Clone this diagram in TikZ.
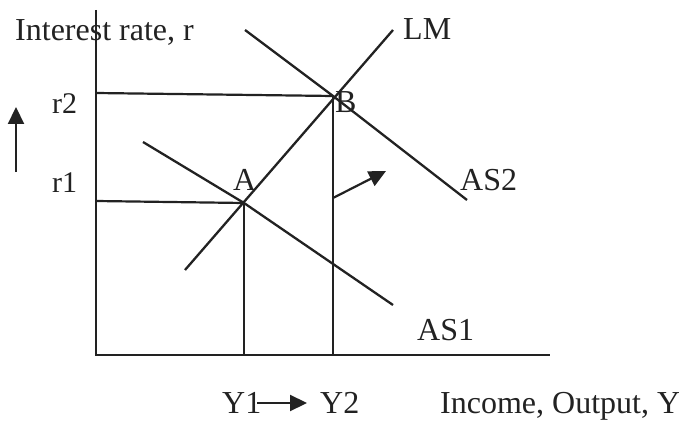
\documentclass[tikz,border=0pt]{standalone}
\usepackage{fontspec}
\setmainfont{Liberation Serif}
\usetikzlibrary{arrows.meta}
\definecolor{ink}{HTML}{222222}
\tikzset{
  curve/.style={draw=ink, line width=2.3pt},
  axis/.style={draw=ink, line width=2.6pt},
  guide/.style={draw=ink, line width=2.2pt},
  lbl/.style={anchor=base west, inner sep=0pt, text=ink, font=\fontsize{32}{38}\selectfont},
  rlbl/.style={anchor=base west, inner sep=0pt, text=ink, font=\fontsize{30}{36}\selectfont},
  arr/.style={draw=ink, line width=2.2pt, -{Triangle[length=17pt,width=16pt]}},
}
\begin{document}
\begin{tikzpicture}[x=1pt,y=-1pt]
\useasboundingbox (0,0) rectangle (679,422);
% axes
\coordinate (O) at (96,355);
\coordinate (ytop) at (96,10);
\coordinate (xend) at (550,355);
\draw[axis] (ytop) -- (O) -- (xend);
% equilibrium points
\coordinate (A) at (244,203);
\coordinate (B) at (333,96);
\coordinate (r1L) at (96,201);
\coordinate (r2L) at (96,93);
\coordinate (Ax) at (244,355);
\coordinate (Bx) at (333,355);
% guides
\draw[guide] (r2L) -- (B);
\draw[guide] (r1L) -- (A);
\draw[guide] (A) -- (Ax);
\draw[guide] (B) -- (Bx);
% curves
\coordinate (LM0) at (185,270);
\coordinate (LM1) at (393,30);
\draw[curve] (LM0) -- (LM1);
\coordinate (AS10) at (143,142);
\coordinate (AS11) at (393,305);
\draw[curve] (AS10) -- (A) -- (AS11);
\coordinate (AS20) at (245,30);
\coordinate (AS21) at (467,200);
\draw[curve] (AS20) -- (B) -- (AS21);
% shift arrow
\coordinate (sh0) at (333,198);
\coordinate (sh1) at (386,171);
\draw[arr] (sh0) -- (sh1);
% up arrow
\coordinate (up0) at (16,172);
\coordinate (up1) at (16,107);
\draw[arr] (up0) -- (up1);
% labels
\node[lbl] (tIR) at (15,41) {Interest rate, r};
\node[lbl] (tLM) at (403,40) {LM};
\node[lbl] (tB) at (335,113) {B};
\node[lbl] (tA) at (233,190) {A};
\node[lbl] (tAS2) at (460,190) {AS2};
\node[lbl] (tAS1) at (417,340) {AS1};
\node[rlbl] (tr2) at (52,114) {r2};
\node[rlbl] (tr1) at (52,192) {r1};
\node[lbl] (tY1) at (222,413) {Y1};
\node[lbl] (tY2) at (320,413) {Y2};
\node[lbl] (tInc) at (440,413) {Income, Output, Y};
\coordinate (ya) at (257,403);
\coordinate (yb) at (307,403);
\draw[arr] (ya) -- (yb);
\end{tikzpicture}
\end{document}
